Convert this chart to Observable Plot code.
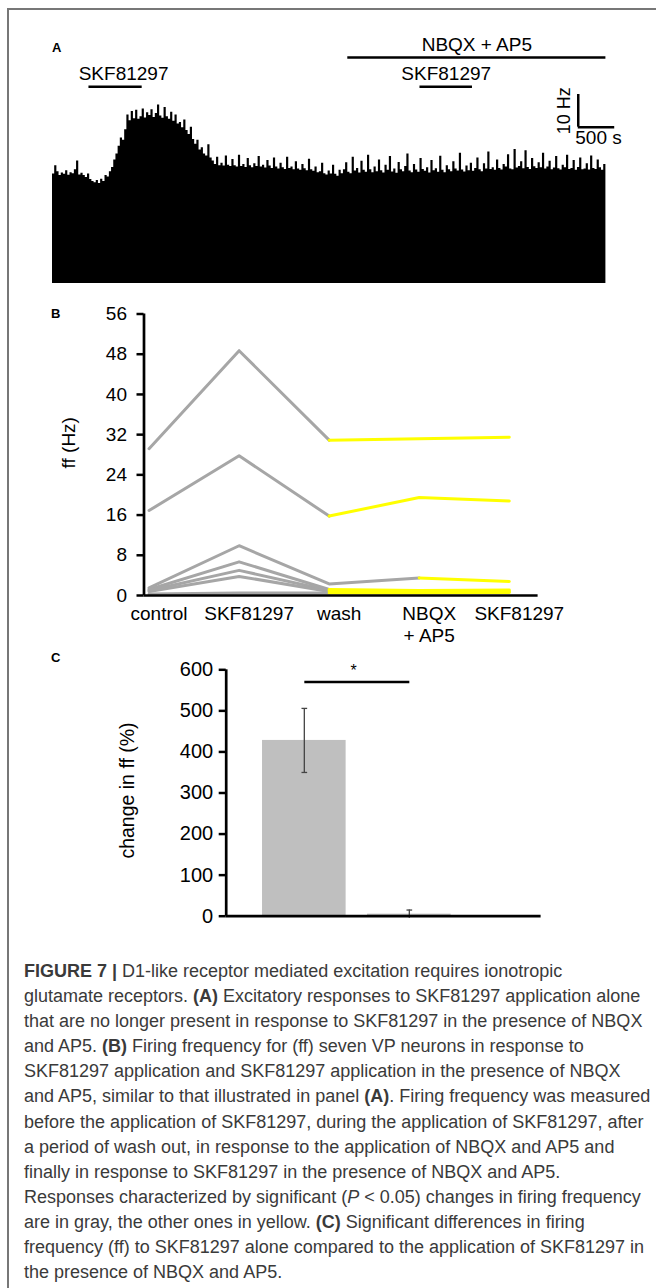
<!DOCTYPE html>
<html><head><meta charset="utf-8">
<script src="https://cdn.jsdelivr.net/npm/d3@7"></script>
<script src="https://cdn.jsdelivr.net/npm/@observablehq/plot@0.6"></script>
<style>
body{margin:0;background:#fff;}
#fig{position:relative;width:656px;height:1288px;overflow:hidden;font-family:"Liberation Sans",Arial,sans-serif;color:#000;}
#frame{position:absolute;left:7px;top:8px;right:-5px;bottom:-5px;border-top:2px solid #777;border-left:2px solid #777;}
.plab{position:absolute;font-weight:bold;font-size:13px;line-height:16px;}
.panel{position:absolute;left:0;}
#caption{position:absolute;left:24px;top:959px;font-size:18px;line-height:25.1px;color:#3a3a3a;white-space:nowrap;}
</style></head>
<body><div id="fig"><div id="frame"></div>
<div class="plab" style="left:52px;top:40px">A</div>
<div class="plab" style="left:51px;top:306px">B</div>
<div class="plab" style="left:51px;top:650px">C</div>
<div class="panel" id="pa" style="top:0px"></div>
<div class="panel" id="pb" style="top:290px"></div>
<div class="panel" id="pc" style="top:650px"></div>
<div id="caption"><b>FIGURE 7 |</b> D1-like receptor mediated excitation requires ionotropic<br>glutamate receptors. <b>(A)</b> Excitatory responses to SKF81297 application alone<br>that are no longer present in response to SKF81297 in the presence of NBQX<br>and AP5. <b>(B)</b> Firing frequency for (ff) seven VP neurons in response to<br>SKF81297 application and SKF81297 application in the presence of NBQX<br>and AP5, similar to that illustrated in panel <b>(A)</b>. Firing frequency was measured<br>before the application of SKF81297, during the application of SKF81297, after<br>a period of wash out, in response to the application of NBQX and AP5 and<br>finally in response to SKF81297 in the presence of NBQX and AP5.<br>Responses characterized by significant (<i>P</i> &lt; 0.05) changes in firing frequency<br>are in gray, the other ones in yellow. <b>(C)</b> Significant differences in firing<br>frequency (ff) to SKF81297 alone compared to the application of SKF81297 in<br>the presence of NBQX and AP5.</div>
</div>
<script>
// ---------- Panel A data: firing-rate histogram (Hz), 30 s bins ----------
const traceBinSeconds = 30;
const traceRateHz = [
 33.5,36.0,34.2,33.0,33.8,33.4,34.5,33.1,33.9,33.6,34.8,37.5,33.2,33.7,33.0,
 32.4,33.5,31.8,31.2,30.8,31.5,30.6,31.9,
 31.2,33.0,32.6,34.2,
 35.5,37.8,39.6,42.0,44.5,43.8,47.0,
 51.5,49.8,52.6,50.4,53.0,50.2,51.0,53.4,50.6,52.2,51.4,53.1,50.8,52.0,54.6,51.2,50.5,53.8,51.0,50.2,52.4,
 49.6,51.5,48.8,49.2,47.6,50.0,46.8,
 45.6,47.8,44.0,42.6,
 43.8,40.8,41.5,39.6,39.0,42.4,38.4,
 37.5,36.4,38.6,36.0,36.8,35.9,39.0,36.2,35.8,37.9,36.0,35.6,39.2,35.8,36.4,35.5,38.2,36.0,35.4,36.6,35.8,38.8,35.6,36.2,35.3,37.6,35.9,35.2,38.4,35.6,
 35.0,36.8,35.4,34.9,38.6,35.2,35.6,34.8,37.2,35.0,34.6,36.4,35.1,34.5,38.0,34.8,34.3,35.6,33.9,34.2,36.8,33.6,33.2,34.4,33.5,36.2,33.4,32.8,34.6,33.6,
 34.8,36.9,34.0,33.6,38.6,34.4,35.2,33.8,37.4,34.6,34.0,39.2,34.8,33.9,35.6,34.2,37.8,34.5,33.8,36.2,
 34.6,38.8,34.1,35.0,33.7,37.0,34.8,34.2,35.8,39.6,34.4,33.9,36.4,34.7,34.0,38.2,34.9,34.3,35.4,33.8,
 37.6,34.5,35.1,34.0,38.9,34.6,33.9,36.0,34.8,34.2,37.2,35.0,34.4,39.8,34.7,34.1,35.9,34.5,36.8,34.3,
 35.2,38.4,34.8,34.2,36.6,35.0,40.2,34.9,35.4,34.6,37.8,35.2,34.7,36.4,35.6,39.4,35.0,34.8,41.0,35.3,
 35.8,37.2,35.1,40.6,35.5,34.9,38.2,35.7,35.2,36.9,35.4,39.8,35.0,35.6,37.4,34.8,35.3,38.8,35.1,34.7,
 36.2,35.4,39.2,34.9,35.2,37.6,34.6,35.5,38.4,34.8,35.0,36.6,34.7,39.0,35.2,34.9,37.8,35.4,34.6,36.4
];
const drugNames = ["SKF81297", "NBQX + AP5", "SKF81297"];
const drugStartS = [500, 4050, 5040];
const drugEndS = [1230, 7590, 5760];
const scaleBarHz = 10;
const scaleBarS = 500;

// ---------- Panel B data: firing frequency (Hz) of seven neurons ----------
const conditions = ["control", "SKF81297", "wash", "NBQX\n+ AP5", "SKF81297"];
const ffNeuron1 = [29.2, 48.7, 30.9, 31.2, 31.5];
const ffNeuron2 = [16.9, 27.8, 15.8, 19.5, 18.8];
const ffNeuron3 = [1.5, 9.9, 2.3, 3.5, 2.8];
const ffNeuron4 = [1.2, 6.7, 1.2, 1.0, 1.1];
const ffNeuron5 = [1.0, 5.0, 1.0, 0.8, 0.9];
const ffNeuron6 = [0.8, 3.8, 0.8, 0.7, 0.7];
const ffNeuron7 = [0.3, 0.5, 0.5, 0.5, 0.6];
const lastSignificantIndex = [2, 2, 3, 2, 2, 2, 2];
const yTicksB = [0, 8, 16, 24, 32, 40, 48, 56];

// ---------- Panel C data: change in ff (%) ----------
const groupsC = ["SKF81297 alone", "SKF81297 + NBQX + AP5"];
const changeMean = [428, 5];
const changeSem = [78, 10];
const yTicksC = [0, 100, 200, 300, 400, 500, 600];
const sigLevel = 570;

const FONT = '"Liberation Sans", Arial, sans-serif';

// ===== Panel A =====
{
  const tbl = traceRateHz.map((v, i) => ({t: i * traceBinSeconds, v}));
  const tEnd = traceRateHz.length * traceBinSeconds;
  tbl.push({t: tEnd, v: traceRateHz[traceRateHz.length - 1]});
  const drugs = drugNames.map((name, i) => ({name, s: drugStartS[i], e: drugEndS[i], mid: (drugStartS[i] + drugEndS[i]) / 2, lvl: i === 1 ? 69.1 : 60.2}));
  const sbX = 7211, sbY = 47.8;
  const plot = Plot.plot({
    width: 656, height: 290,
    marginLeft: 52, marginRight: 50.6, marginTop: 21.4, marginBottom: 7,
    x: {domain: [0, tEnd], axis: null},
    y: {domain: [0, 80], axis: null},
    style: {fontFamily: FONT, fontSize: "19px", background: "transparent", color: "#000"},
    marks: [
      Plot.areaY(tbl, {x: "t", y: "v", curve: "step-after", fill: "#000"}),
      Plot.ruleY(drugs, {y: "lvl", x1: "s", x2: "e", stroke: "#000", strokeWidth: 2.5}),
      Plot.text(drugs.slice(0, 1), {x: "mid", y: "lvl", text: "name", fontSize: 19, lineAnchor: "bottom", dy: -7, dx: 8}),
      Plot.text(drugs.slice(1, 2), {x: "mid", y: "lvl", text: "name", fontSize: 19, lineAnchor: "bottom", dy: -7}),
      Plot.text(drugs.slice(2), {x: "mid", y: "lvl", text: "name", fontSize: 19, lineAnchor: "bottom", dy: -7}),
      Plot.ruleX([sbX], {y1: sbY, y2: sbY + scaleBarHz, stroke: "#000", strokeWidth: 2.5}),
      Plot.ruleY([sbY], {x1: sbX, x2: sbX + scaleBarS, stroke: "#000", strokeWidth: 2.5}),
      Plot.text([scaleBarHz + " Hz"], {x: sbX, y: sbY + scaleBarHz / 2, rotate: -90, dx: -14, fontSize: 18}),
      Plot.text([scaleBarS + " s"], {x: sbX + scaleBarS / 2, y: sbY, dy: 11, dx: 2, fontSize: 19})
    ]
  });
  document.getElementById("pa").append(plot);
}

// ===== Panel B =====
{
  const neurons = [ffNeuron1, ffNeuron2, ffNeuron3, ffNeuron4, ffNeuron5, ffNeuron6, ffNeuron7];
  const gray = [], yellow = [];
  neurons.forEach((vals, n) => {
    vals.forEach((v, i) => {
      if (i <= lastSignificantIndex[n]) gray.push({n, i, v});
      if (i >= lastSignificantIndex[n]) yellow.push({n, i, v});
    });
  });
  const x0 = -0.056, x1 = 4.32;
  const plot = Plot.plot({
    width: 656, height: 360,
    marginLeft: 143.5, marginRight: 118.4, marginTop: 23.5, marginBottom: 55,
    x: {domain: [x0, x1], axis: null},
    y: {domain: [0, 56], axis: null},
    style: {fontFamily: FONT, fontSize: "19px", background: "transparent", color: "#000"},
    marks: [
      Plot.line(gray, {x: "i", y: "v", z: "n", stroke: "#a6a6a6", strokeWidth: 3}),
      Plot.line(yellow, {x: "i", y: "v", z: "n", stroke: "#ffff00", strokeWidth: 3}),
      Plot.axisY({ticks: yTicksB, tickSize: 7, tickPadding: 10, strokeWidth: 2.5, fontSize: 19, label: null}),
      Plot.axisX({ticks: [0, 1, 2, 3, 4], tickFormat: i => conditions[i], tickSize: 0, tickPadding: 8, dx: 10, fontSize: 19, lineHeight: 1.2, label: null}),
      Plot.ruleX([x0], {y1: 0, y2: 56, stroke: "#000", strokeWidth: 2.7}),
      Plot.ruleY([0], {stroke: "#000", strokeWidth: 2.7}),
      Plot.text(["ff (Hz)"], {frameAnchor: "left", textAnchor: "middle", dx: -75.5, dy: -12, rotate: -90, fontSize: 19})
    ]
  });
  document.getElementById("pb").append(plot);
}

// ===== Panel C =====
{
  const bars = groupsC.map((g, i) => ({g, i, m: changeMean[i], lo: changeMean[i] - changeSem[i], hi: changeMean[i] + changeSem[i]}));
  const x0 = -0.744, x1 = 2.255;
  const hw = 0.398, cap = 0.027;
  const plot = Plot.plot({
    width: 656, height: 280,
    marginLeft: 225.7, marginRight: 115.4, marginTop: 19.3, marginBottom: 14.3,
    x: {domain: [x0, x1], axis: null},
    y: {domain: [0, 600], axis: null},
    style: {fontFamily: FONT, fontSize: "20px", background: "transparent", color: "#000"},
    marks: [
      Plot.rectY(bars, {x1: d => d.i - hw, x2: d => d.i + hw, y1: 0, y2: "m", fill: "#bfbfbf", inset: 0}),
      Plot.ruleX(bars, {x: "i", y1: "lo", y2: "hi", stroke: "#444", strokeWidth: 1.3}),
      Plot.link(bars, {x1: d => d.i - cap, x2: d => d.i + cap, y1: "hi", y2: "hi", stroke: "#444", strokeWidth: 1.3}),
      Plot.link(bars.filter(d => d.lo > 0), {x1: d => d.i - cap, x2: d => d.i + cap, y1: "lo", y2: "lo", stroke: "#444", strokeWidth: 1.3}),
      Plot.link([sigLevel], {x1: 0, x2: 1, y1: d => d, y2: d => d, stroke: "#000", strokeWidth: 2.5}),
      Plot.text(["*"], {x: 0.47, y: sigLevel, dy: -11, fontSize: 16}),
      Plot.axisY({ticks: yTicksC, tickSize: 7, tickPadding: 6, strokeWidth: 2.5, fontSize: 20, label: null}),
      Plot.ruleX([x0], {y1: 0, y2: 600, stroke: "#000", strokeWidth: 2.7}),
      Plot.ruleY([0], {stroke: "#000", strokeWidth: 2.7}),
      Plot.text(["change in ff (%)"], {frameAnchor: "left", textAnchor: "middle", dx: -98.2, dy: -2.5, rotate: -90, fontSize: 19.5})
    ]
  });
  document.getElementById("pc").append(plot);
}
</script>
</body></html>
